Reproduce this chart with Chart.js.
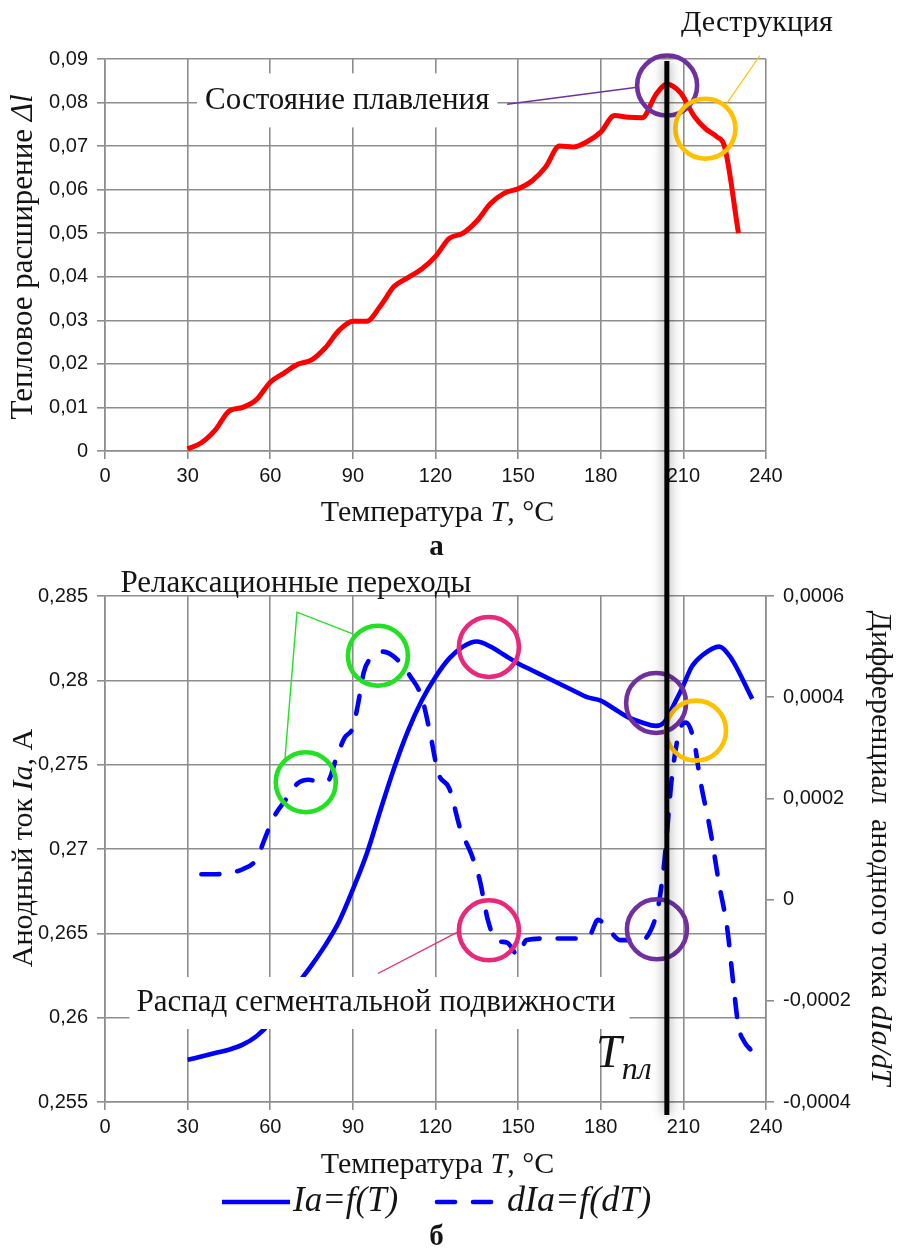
<!DOCTYPE html>
<html>
<head>
<meta charset="utf-8">
<script src="https://cdn.jsdelivr.net/npm/chart.js@4.4.1/dist/chart.umd.min.js"></script>
<style>
  html, body { margin: 0; padding: 0; background: #ffffff; }
  #wrap { position: relative; width: 898px; height: 1250px; }
  #wrap canvas { position: absolute; left: 0; top: 0; }
</style>
</head>
<body>
<div id="wrap">
  <canvas id="expansion" width="898" height="1250"></canvas>
  <canvas id="current" width="898" height="1250"></canvas>
</div>
<script>
// ---- Thermal expansion (chart а) ----
const expTemp = [30, 35, 40, 45, 50, 55, 60, 65, 70, 75, 80, 85, 90, 95, 100, 105, 110, 115, 120, 125,
                 130, 135, 140, 145, 150, 155, 160, 165, 170, 175, 180, 185, 190, 195, 200, 204, 209,
                 214, 218, 222, 225, 230];
const expValue = [0.0005, 0.0019, 0.0048, 0.0091, 0.0100, 0.0118, 0.0158, 0.0179, 0.0199, 0.0209, 0.0237,
                  0.0277, 0.0298, 0.0298, 0.0333, 0.0378, 0.0398, 0.0418, 0.0447, 0.0488, 0.0500, 0.0528,
                  0.0568, 0.0592, 0.0602, 0.0620, 0.0652, 0.0700, 0.0698, 0.0710, 0.0732, 0.0770, 0.0766,
                  0.0765, 0.0818, 0.0842, 0.0822, 0.0768, 0.0740, 0.0722, 0.0698, 0.0500];
const expTicks = [0, 0.01, 0.02, 0.03, 0.04, 0.05, 0.06, 0.07, 0.08, 0.09];
const expTickLabels = ['0', '0,01', '0,02', '0,03', '0,04', '0,05', '0,06', '0,07', '0,08', '0,09'];

// ---- Anode current and its differential (chart б) ----
const iaTemp = [30, 35, 40, 45, 50, 55, 60, 65, 70, 75, 80, 85, 90, 95, 100, 105, 110, 115, 120, 125,
                130, 135, 140, 145, 150, 155, 160, 165, 170, 175, 180, 185, 190, 195, 200, 203, 207,
                210, 213, 217, 223, 227, 235];
const iaValue = [0.2575, 0.2577, 0.2579, 0.2581, 0.2584, 0.2589, 0.2597, 0.2608, 0.2620, 0.2631, 0.2643,
                 0.2657, 0.2676, 0.2697, 0.2723, 0.2748, 0.2770, 0.2788, 0.2802, 0.2813, 0.2820, 0.2823,
                 0.2820, 0.2815, 0.2810, 0.2806, 0.2802, 0.2798, 0.2794, 0.2790, 0.2788, 0.2783, 0.2778,
                 0.2775, 0.2773, 0.2775, 0.2787, 0.2797, 0.2808, 0.2815, 0.2820, 0.2814, 0.2789];
const dIaTemp = [35, 40, 45, 50, 55, 58, 61, 66, 70, 74, 78, 81, 84, 87, 90, 92, 94, 97, 101, 106, 111,
                 115, 118, 121, 125, 129, 133, 136, 139, 142, 146, 150, 153, 160, 170, 176, 179, 183, 187,
                 195, 199, 201, 203, 206, 209, 211, 214, 216, 220, 223, 226, 228, 230, 232, 235];
const dIaValue = [0.00005, 0.00005, 0.000053, 0.00006, 0.00008, 0.00012, 0.00016, 0.0002, 0.00023,
                  0.000237, 0.000232, 0.000235, 0.00028, 0.00032, 0.00034, 0.00039, 0.00045, 0.00048,
                  0.00049, 0.000475, 0.00044, 0.0004, 0.00033, 0.00025, 0.00022, 0.00014, 0.00009,
                  0.00004, -0.00004, -0.00008, -0.000085, -0.00011, -0.00008, -0.000077, -0.000077,
                  -0.00007, -0.00004, -0.00006, -0.00008, -0.00008, -0.00005, -0.00001, 0.00007, 0.00025,
                  0.00034, 0.00035, 0.00031, 0.00024, 0.00013, 0.00003, -0.00006, -0.00016, -0.00025,
                  -0.00028, -0.0003];
const iaTicks = [0.255, 0.26, 0.265, 0.27, 0.275, 0.28, 0.285];
const iaTickLabels = ['0,255', '0,26', '0,265', '0,27', '0,275', '0,28', '0,285'];
const dIaTicks = [-0.0004, -0.0002, 0, 0.0002, 0.0004, 0.0006];
const dIaTickLabels = ['-0,0004', '-0,0002', '0', '0,0002', '0,0004', '0,0006'];

// ---- Shared temperature axis ----
const tempTicks = [0, 30, 60, 90, 120, 150, 180, 210, 240];
const tempTickLabels = ['0', '30', '60', '90', '120', '150', '180', '210', '240'];
const T_MELT = 204;

// ---- Styling ----
const SERIF = '"Liberation Serif", "Times New Roman", serif';
const SANS = '"Liberation Sans", Arial, sans-serif';
const GRID = '#8d8d8d';
const INK = '#141414';
const tickFont = { family: SANS, size: 20 };
const TITLE = 30;   // axis title size
const NOTE = 31;    // annotation text size

function fixedTicks(values) {
  return axis => { axis.ticks = values.map(v => ({ value: v })); };
}

// Draws a run of text pieces with their own fonts, optionally rotated
function richText(ctx, parts, x, y, opt = {}) {
  ctx.save();
  ctx.translate(x, y);
  if (opt.rot) ctx.rotate(opt.rot);
  let w = 0;
  parts.forEach(p => { ctx.font = p.f; p.w = ctx.measureText(p.t).width; w += p.w; });
  let cx = opt.align === 'left' ? 0 : -w / 2;
  ctx.textAlign = 'left';
  ctx.textBaseline = opt.baseline || 'middle';
  ctx.fillStyle = opt.color || INK;
  parts.forEach(p => { ctx.font = p.f; ctx.fillText(p.t, cx, p.dy || 0); cx += p.w; });
  ctx.restore();
  return w;
}

function ring(ctx, x, y, color, r = 30) {
  ctx.save();
  ctx.beginPath();
  ctx.arc(x, y, r, 0, Math.PI * 2);
  ctx.strokeStyle = color;
  ctx.lineWidth = 4.6;
  ctx.stroke();
  ctx.restore();
}

function leader(ctx, pts, color, w = 1.3) {
  ctx.save();
  ctx.beginPath();
  pts.forEach((p, i) => i ? ctx.lineTo(p[0], p[1]) : ctx.moveTo(p[0], p[1]));
  ctx.strokeStyle = color;
  ctx.lineWidth = w;
  ctx.stroke();
  ctx.restore();
}

// Text label with an opaque white backing box
function boxedLabel(ctx, text, x, y, font, padL, padR, halfH) {
  ctx.save();
  ctx.font = font;
  const w = ctx.measureText(text).width;
  ctx.fillStyle = '#ffffff';
  ctx.fillRect(x - padL, y - halfH, w + padL + padR, 2 * halfH);
  ctx.fillStyle = INK;
  ctx.textBaseline = 'middle';
  ctx.textAlign = 'left';
  ctx.fillText(text, x, y);
  ctx.restore();
}

const PURPLE = '#7030a0';
const ORANGE = '#ffc000';
const GREEN = '#22e022';
const PINK = '#e8287a';

function axisX(ticksVals, labels) {
  return {
    type: 'linear', min: 0, max: 240,
    afterBuildTicks: fixedTicks(ticksVals),
    afterFit: s => { s.height = 40; },
    ticks: { callback: (v, i) => labels[i], font: tickFont, color: INK, padding: 5,
             maxRotation: 0, autoSkip: false },
    grid: { color: GRID, lineWidth: 1.6, tickLength: 8 },
    border: { color: GRID, width: 1.6 }
  };
}

function tempTitle(ctx, x, y) {
  richText(ctx, [
    { t: 'Температура ', f: `${TITLE}px ${SERIF}` },
    { t: 'T', f: `italic ${TITLE}px ${SERIF}` },
    { t: ', °C', f: `${TITLE}px ${SERIF}` }
  ], x, y);
}

// ---------------- Chart а ----------------
const annotateExpansion = {
  id: 'annotateExpansion',
  afterDraw(chart) {
    const { ctx, scales: { x, y }, chartArea: a } = chart;
    const P = (t, v) => [x.getPixelForValue(t), y.getPixelForValue(v)];

    // axis titles
    richText(ctx, [
      { t: 'Тепловое расширение ', f: `31px ${SERIF}` },
      { t: 'Δl', f: `italic 31px ${SERIF}` }
    ], 24, (a.top + a.bottom) / 2 + 2, { rot: -Math.PI / 2 });
    tempTitle(ctx, (a.left + a.right) / 2 + 2, a.bottom + 62);
    richText(ctx, [{ t: 'а', f: `bold 29px ${SERIF}` }], (a.left + a.right) / 2 + 1, a.bottom + 97);

    // melting state note
    const [lx, ly] = P(36.3, 0.0805);
    boxedLabel(ctx, 'Состояние плавления', lx, ly, `${NOTE}px ${SERIF}`, 8, 8, 27);
    const melt = P(204.1, 0.0839);
    leader(ctx, [P(146.0, 0.0796), P(193.2, 0.0835)], PURPLE, 1.4);
    ring(ctx, melt[0], melt[1], PURPLE);

    // destruction note
    const destr = P(218.0, 0.0740);
    leader(ctx, [P(225.8, 0.0798), P(237.8, 0.0908)], ORANGE, 1.2);
    ring(ctx, destr[0], destr[1], ORANGE);
    const [dx, dy] = P(236.7, 0.0982);
    richText(ctx, [{ t: 'Деструкция', f: `30px ${SERIF}` }], dx, dy);
  }
};

const topChart = new Chart(document.getElementById('expansion'), {
  type: 'line',
  data: {
    datasets: [{
      label: 'Δl',
      data: expTemp.map((t, i) => ({ x: t, y: expValue[i] })),
      borderColor: '#ff0000',
      borderWidth: 5,
      pointRadius: 0,
      cubicInterpolationMode: 'monotone',
      fill: false
    }]
  },
  options: {
    responsive: false, animation: false, events: [],
    layout: { padding: { top: 59, left: 0, right: 132, bottom: 759 } },
    plugins: { legend: { display: false }, tooltip: { enabled: false } },
    scales: {
      x: axisX(tempTicks, tempTickLabels),
      y: {
        min: 0, max: 0.09,
        afterBuildTicks: fixedTicks(expTicks),
        afterFit: s => { s.width = 105; },
        ticks: { callback: (v, i) => expTickLabels[i], font: tickFont, color: INK, padding: 9 },
        grid: { color: GRID, lineWidth: 1.6, tickLength: 8 },
        border: { color: GRID, width: 1.6 }
      }
    }
  },
  plugins: [annotateExpansion]
});

// ---------------- Chart б ----------------
const annotateCurrent = {
  id: 'annotateCurrent',
  afterDraw(chart) {
    const { ctx, scales: { x, y, y2 }, chartArea: a } = chart;
    const L = (t, v) => [x.getPixelForValue(t), y.getPixelForValue(v)];
    const R = (t, v) => [x.getPixelForValue(t), y2.getPixelForValue(v)];

    // segmental mobility note (boxed, hides grid underneath)
    const [sx, sy] = L(11.4, 0.26087);
    boxedLabel(ctx, 'Распад сегментальной подвижности', sx, sy, `${NOTE}px ${SERIF}`, 7, 14, 26);
    leader(ctx, [R(99.1, -0.000146), R(127.8, -0.0000647)], PINK, 1.3);

    // relaxation transitions note
    const [rx, ry] = L(5.6, 0.28577);
    richText(ctx, [{ t: 'Релаксационные переходы', f: `${NOTE}px ${SERIF}` }], rx, ry + 1, { align: 'left' });
    const v = R(69.7, 0.000568);
    leader(ctx, [R(90.0, 0.000525), v, R(65.3, 0.000276)], GREEN, 1.4);

    // highlight rings
    [[R(99.1, 0.000482), GREEN], [R(72.9, 0.000232), GREEN],
     [L(139.4, 0.28198), PINK], [R(139.4, -0.0000607), PINK],
     [L(200.1, 0.27866), PURPLE], [R(200.4, -0.0000587), PURPLE],
     [R(214.6, 0.000334), ORANGE]].forEach(([p, c]) => ring(ctx, p[0], p[1], c));

    // melting temperature label
    const [tx, ty] = R(178.3, -0.00033);
    richText(ctx, [
      { t: 'T', f: `italic 46px ${SERIF}` },
      { t: 'пл', f: `italic 32px ${SERIF}`, dy: 12 }
    ], tx, ty, { align: 'left', baseline: 'alphabetic' });

    // axis titles
    richText(ctx, [
      { t: 'Анодный ток ', f: `${TITLE}px ${SERIF}` },
      { t: 'Ia', f: `italic ${TITLE}px ${SERIF}` },
      { t: ', А', f: `${TITLE}px ${SERIF}` }
    ], 24, 848, { rot: -Math.PI / 2 });
    richText(ctx, [
      { t: 'Дифференциал  анодного тока ', f: `${TITLE}px ${SERIF}` },
      { t: 'dIa/dT', f: `italic ${TITLE}px ${SERIF}` }
    ], 880, 848, { rot: Math.PI / 2 });
    tempTitle(ctx, (a.left + a.right) / 2 + 2, a.bottom + 63);

    // legend built from the dataset styles
    const ly = a.bottom + 100;
    chart.data.datasets.forEach((ds, i) => {
      const x0 = i === 0 ? 222 : 437;
      const x1 = i === 0 ? 290 : 498;
      ctx.save();
      ctx.strokeStyle = ds.borderColor;
      ctx.lineWidth = ds.borderWidth;
      ctx.lineCap = ds.borderCapStyle || 'butt';
      ctx.setLineDash(ds.borderDash || []);
      ctx.beginPath(); ctx.moveTo(x0, ly); ctx.lineTo(x1, ly); ctx.stroke();
      ctx.restore();
      richText(ctx, ds.legendParts, x1 + (i === 0 ? 3 : 9), ly, { align: 'left' });
    });
    richText(ctx, [{ t: 'б', f: `bold 29px ${SERIF}` }], (a.left + a.right) / 2 + 1, a.bottom + 136);

    // melting temperature marker across both charts
    const mx = x.getPixelForValue(T_MELT);
    const yTop = topChart.scales.y.getPixelForValue(0.09) + 2;
    const yBot = a.bottom + 13;
    ctx.save();
    ctx.shadowColor = 'rgba(0,0,0,0.45)';
    ctx.shadowBlur = 12;
    ctx.strokeStyle = '#000000';
    ctx.lineWidth = 5;
    ctx.beginPath(); ctx.moveTo(mx, yTop); ctx.lineTo(mx, yBot); ctx.stroke();
    ctx.restore();
  }
};

new Chart(document.getElementById('current'), {
  type: 'line',
  data: {
    datasets: [{
      label: 'Ia=f(T)',
      legendParts: [{ t: 'Ia=f(T)', f: `italic 35px ${SERIF}` }],
      data: iaTemp.map((t, i) => ({ x: t, y: iaValue[i] })),
      yAxisID: 'y',
      borderColor: '#0000ff',
      borderWidth: 4.6,
      pointRadius: 0,
      cubicInterpolationMode: 'monotone',
      fill: false
    }, {
      label: 'dIa=f(dT)',
      legendParts: [{ t: 'dIa=f(dT)', f: `italic 36px ${SERIF}` }],
      data: dIaTemp.map((t, i) => ({ x: t, y: dIaValue[i] })),
      yAxisID: 'y2',
      borderColor: '#0000ff',
      borderWidth: 4.6,
      borderDash: [18, 18],
      borderCapStyle: 'round',
      pointRadius: 0,
      cubicInterpolationMode: 'monotone',
      fill: false
    }]
  },
  options: {
    responsive: false, animation: false, events: [],
    layout: { padding: { top: 596, left: 0, right: 22, bottom: 108 } },
    plugins: { legend: { display: false }, tooltip: { enabled: false } },
    scales: {
      x: axisX(tempTicks, tempTickLabels),
      y: {
        position: 'left', min: 0.255, max: 0.285,
        afterBuildTicks: fixedTicks(iaTicks),
        afterFit: s => { s.width = 105; },
        ticks: { callback: (v, i) => iaTickLabels[i], font: tickFont, color: INK, padding: 9 },
        grid: { color: GRID, lineWidth: 1.6, tickLength: 8 },
        border: { color: GRID, width: 1.6 }
      },
      y2: {
        position: 'right', min: -0.0004, max: 0.0006,
        afterBuildTicks: fixedTicks(dIaTicks),
        afterFit: s => { s.width = 110; },
        ticks: { callback: (v, i) => dIaTickLabels[i], font: tickFont, color: INK, padding: 9 },
        grid: { drawOnChartArea: false, color: GRID, lineWidth: 1.6, tickLength: 8 },
        border: { color: GRID, width: 1.6 }
      }
    }
  },
  plugins: [annotateCurrent]
});
</script>
</body>
</html>
